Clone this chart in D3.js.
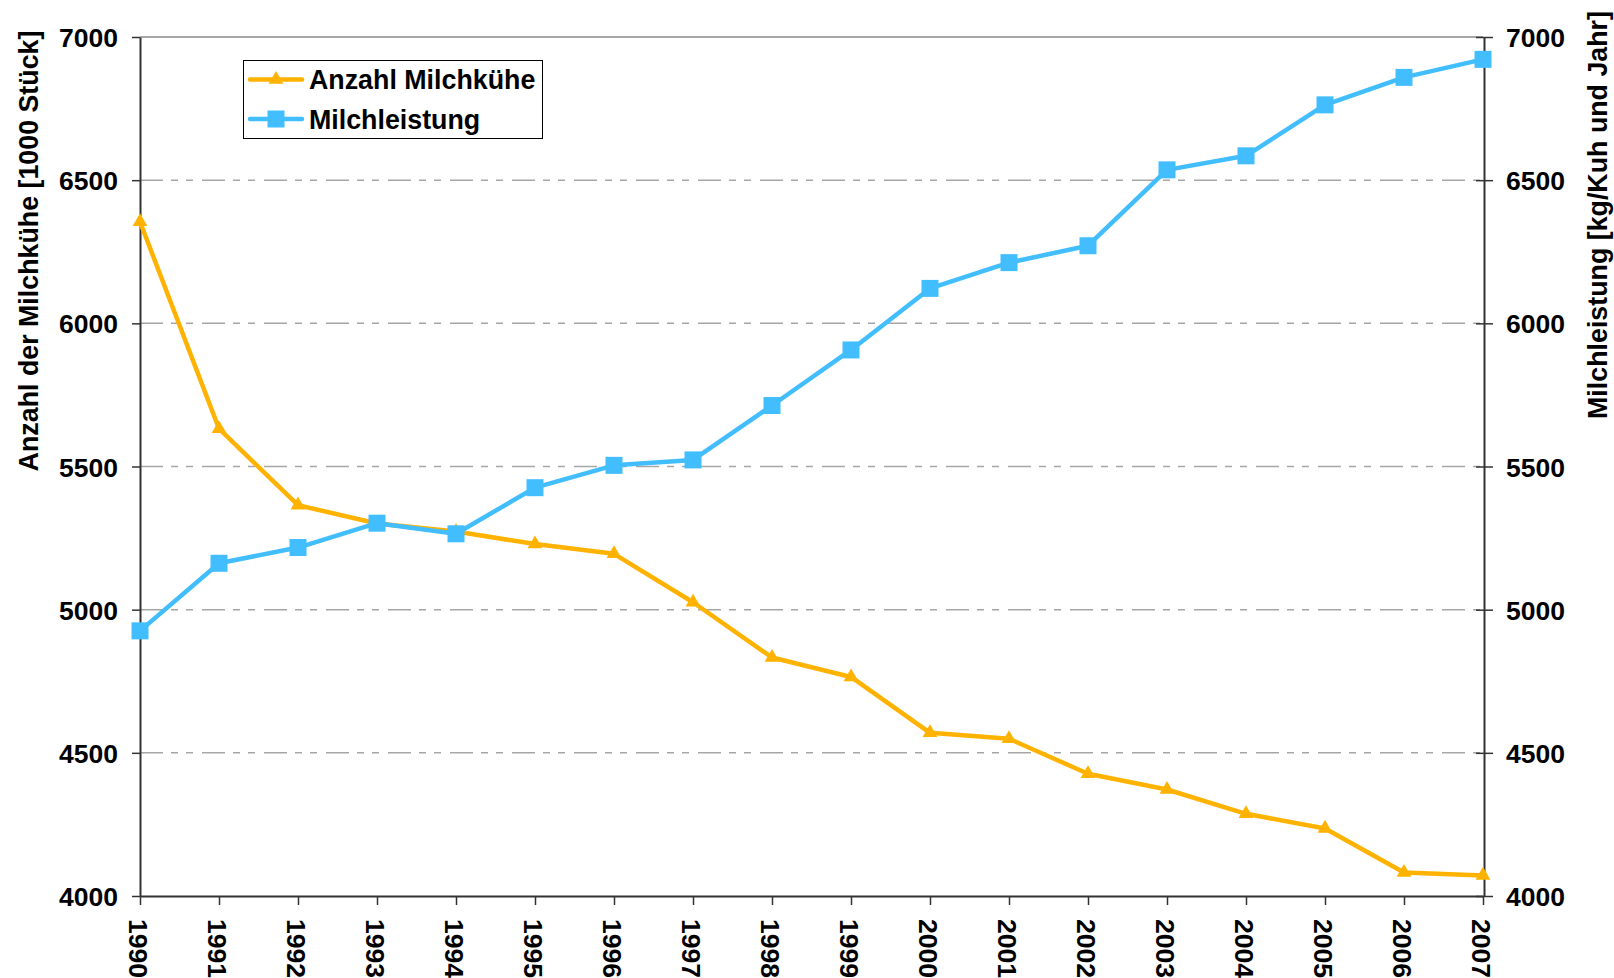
<!DOCTYPE html>
<html>
<head>
<meta charset="utf-8">
<script src="https://cdn.jsdelivr.net/npm/d3@7"></script>
<style>
  body { margin: 0; background: #fff; }
  svg { display: block; font-family: "Liberation Sans", Arial, sans-serif; font-weight: bold; }
</style>
</head>
<body>
<div id="chart"></div>
<script>
// Daten
let years = [1990, 1991, 1992, 1993, 1994, 1995, 1996, 1997, 1998, 1999, 2000, 2001, 2002, 2003, 2004, 2005, 2006, 2007];
let anzahlKuehe = [6355, 5632, 5365, 5301, 5273, 5229, 5195, 5026, 4833, 4765, 4570, 4549, 4427, 4372, 4287, 4236, 4082, 4072];
let milchleistung = [4926, 5162, 5217, 5302, 5265, 5426, 5504, 5523, 5713, 5907, 6122, 6212, 6271, 6536, 6585, 6763, 6859, 6922];
let yTicks = [4000, 4500, 5000, 5500, 6000, 6500, 7000];
let seriesNames = ["Anzahl Milchkühe", "Milchleistung"];
let leftTitle = "Anzahl der Milchkühe [1000 Stück]";
let rightTitle = "Milchleistung [kg/Kuh und Jahr]";

let width = 1614;
let height = 978;
let plot = { left: 140, right: 1483, top: 37, bottom: 896 };
let orange = "#FFB300";
let blue = "#42BEFF";
let TickSize = 26.5;
let CaptionSize = 26.8;

let svg = d3.select("#chart").append("svg")
            .attr("width", width)
            .attr("height", height);

// Skalen
let xScale = d3.scaleLinear()
               .domain([years[0], years[years.length - 1]])
               .range([plot.left, plot.right]);
let yLeft = d3.scaleLinear().domain([4000, 7000]).range([plot.bottom, plot.top]);
let yRight = d3.scaleLinear().domain([4000, 7000]).range([plot.bottom, plot.top]);

// Gitterlinien
svg.append("g")
   .selectAll("line")
   .data(yTicks.filter(d => d > 4000 && d < 7000))
   .enter().append("line")
   .attr("x1", plot.left)
   .attr("x2", plot.right)
   .attr("y1", d => yLeft(d))
   .attr("y2", d => yLeft(d))
   .attr("stroke", "#A6A6A6")
   .attr("stroke-width", 1.5)
   .attr("stroke-dasharray", "23,8,7,8,7,9");

// oberer Rahmen
svg.append("line")
   .attr("x1", plot.left).attr("x2", plot.right)
   .attr("y1", yLeft(7000)).attr("y2", yLeft(7000))
   .attr("stroke", "#8a8a8a")
   .attr("stroke-width", 1.5);

// linke Achse
let axisL = svg.append("g")
               .attr("transform", "translate(" + plot.left + ",0)")
               .call(d3.axisLeft(yLeft).tickValues(yTicks).tickFormat(d3.format("d"))
                       .tickSizeInner(8).tickSizeOuter(0).tickPadding(14));
axisL.select(".domain").attr("stroke", "#333").attr("stroke-width", 2);
axisL.selectAll(".tick line").attr("stroke", "#333").attr("stroke-width", 1.5);
axisL.selectAll("text")
     .style("font-size", TickSize + "px")
     .attr("fill", "#000")
     .attr("dy", "0.36em");

// rechte Achse
let axisR = svg.append("g")
               .attr("transform", "translate(" + (plot.right + 1) + ",0)")
               .call(d3.axisRight(yRight).tickValues(yTicks).tickFormat(d3.format("d"))
                       .tickSizeInner(9).tickSizeOuter(0).tickPadding(13));
axisR.select(".domain").attr("stroke", "#333").attr("stroke-width", 2);
axisR.selectAll(".tick line").attr("x1", -8).attr("stroke", "#333").attr("stroke-width", 1.5);
axisR.selectAll("text")
     .style("font-size", TickSize + "px")
     .attr("fill", "#000")
     .attr("dy", "0.36em");

// x-Achse
let axisX = svg.append("g")
               .attr("transform", "translate(0," + plot.bottom + ")")
               .call(d3.axisBottom(xScale).tickValues(years).tickFormat(d3.format("d")).tickSizeInner(9).tickSizeOuter(0));
axisX.select(".domain").attr("stroke", "#333").attr("stroke-width", 2);
axisX.selectAll(".tick line").attr("stroke", "#333").attr("stroke-width", 1.5);
axisX.selectAll("text")
     .style("font-size", TickSize + "px")
     .attr("fill", "#000")
     .attr("transform", "rotate(90)")
     .attr("x", 23)
     .attr("y", 0)
     .attr("dy", "0.44em")
     .style("text-anchor", "start");

// Achsentitel
svg.append("text")
   .attr("transform", "translate(38,251) rotate(-90)")
   .style("font-size", CaptionSize + "px")
   .style("text-anchor", "middle")
   .text(leftTitle);

svg.append("text")
   .attr("transform", "translate(1607,215) rotate(-90)")
   .style("font-size", CaptionSize + "px")
   .style("text-anchor", "middle")
   .text(rightTitle);

// Linien
let line = d3.line()
             .x((d, i) => xScale(years[i]))
             .y(d => yLeft(d));
let lineR = d3.line()
              .x((d, i) => xScale(years[i]))
              .y(d => yRight(d));

svg.append("path")
   .datum(anzahlKuehe)
   .attr("fill", "none")
   .attr("stroke", orange)
   .attr("stroke-width", 4.5)
   .attr("stroke-linejoin", "round")
   .attr("d", line);

svg.append("g")
   .selectAll("path")
   .data(anzahlKuehe)
   .enter().append("path")
   .attr("d", d3.symbol(d3.symbolTriangle).size(95))
   .attr("transform", (d, i) => "translate(" + xScale(years[i]) + "," + yLeft(d) + ")")
   .attr("fill", orange);

svg.append("path")
   .datum(milchleistung)
   .attr("fill", "none")
   .attr("stroke", blue)
   .attr("stroke-width", 4.5)
   .attr("stroke-linejoin", "round")
   .attr("d", lineR);

svg.append("g")
   .selectAll("rect")
   .data(milchleistung)
   .enter().append("rect")
   .attr("x", (d, i) => xScale(years[i]) - 8.5)
   .attr("y", d => yRight(d) - 8.5)
   .attr("width", 17)
   .attr("height", 17)
   .attr("fill", blue);

// Legende
let legend = svg.append("g").attr("transform", "translate(243,60)");
legend.append("rect")
      .attr("x", 0.5).attr("y", 0.5)
      .attr("width", 299).attr("height", 78)
      .attr("fill", "#fff")
      .attr("stroke", "#000")
      .attr("stroke-width", 1);

let legendRows = legend.selectAll(".legend")
                       .data(seriesNames)
                       .enter().append("g")
                       .attr("class", "legend")
                       .attr("transform", (d, i) => "translate(0," + (19.5 + i * 39.5) + ")");

legendRows.append("line")
          .attr("x1", 7).attr("x2", 59)
          .attr("y1", 0).attr("y2", 0)
          .attr("stroke", (d, i) => i === 0 ? orange : blue)
          .attr("stroke-width", 4.5)
          .attr("stroke-linecap", "round");

legendRows.append("path")
          .attr("d", (d, i) => d3.symbol(i === 0 ? d3.symbolTriangle : d3.symbolSquare).size(i === 0 ? 95 : 289)())
          .attr("transform", "translate(33,0)")
          .attr("fill", (d, i) => i === 0 ? orange : blue);

legendRows.append("text")
          .attr("x", 66)
          .attr("dy", "0.36em")
          .style("font-size", CaptionSize + "px")
          .text(d => d);
</script>
</body>
</html>
